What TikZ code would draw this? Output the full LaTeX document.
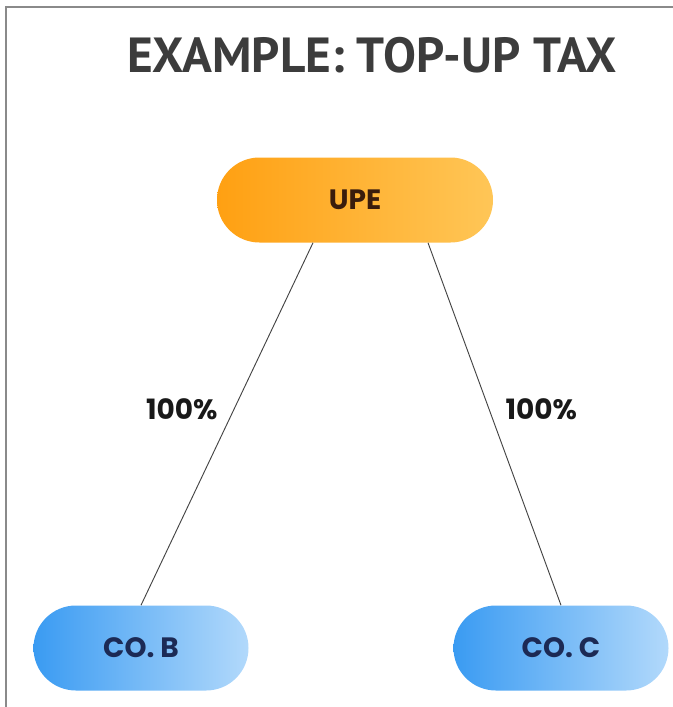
\documentclass[tikz,border=0pt]{standalone}
\usepackage{fontspec}
\setmainfont{Poppins}
\newfontfamily\titlefont{PT Sans}
\usetikzlibrary{positioning}
\definecolor{upeleft}{HTML}{FFA012}
\definecolor{uperight}{HTML}{FFC657}
\definecolor{upetext}{HTML}{3A1C0C}
\definecolor{coleft}{HTML}{3A9BF2}
\definecolor{coright}{HTML}{B2D9FB}
\definecolor{cotext}{HTML}{1C2A55}
\definecolor{titlegray}{HTML}{3C3C3C}
\definecolor{framegray}{HTML}{8A8A8A}
\definecolor{linegray}{HTML}{444444}
\begin{document}
\begin{tikzpicture}[
            every node/.style = {font = \bfseries\fontsize{21}{24}\selectfont},
            entity/.style = {minimum height = 63.75pt, rounded corners = 31.8pt, inner sep = 0pt},
            upebox/.style = {entity, minimum width = 207pt, left color = upeleft, right color = uperight, text = upetext},
            cobox/.style = {entity, minimum width = 161.25pt, xshift = -3pt, left color = coleft, right color = coright, text = cotext},
            sharelabel/.style = {inner sep = 0pt, text = black!90},
            level distance = 336pt, sibling distance = 315pt]
            \useasboundingbox (0,0) rectangle (504.75pt,-530.25pt);
            \draw[framegray, line width = 1.1pt] (4.5pt,-530.25pt) -- (4.5pt,-5.25pt) -- (504.75pt,-5.25pt);
            \node[font = \titlefont\bfseries\fontsize{37}{42}\selectfont, text = titlegray] (title) at (279pt,-41.25pt) {EXAMPLE: TOP-UP TAX};
            \node[upebox] (upe) at (266.25pt,-150pt) {UPE}
            child {node[cobox] (cob) {CO. B} edge from parent[draw = none]}
            child {node[cobox] (coc) {CO. C} edge from parent[draw = none]};
            \draw[linegray, line width = 0.7pt] ([xshift = -31.5pt]upe.south) -- node[sharelabel, pos = .46, left = 12pt] {100\%} (cob.north);
            \draw[linegray, line width = 0.7pt] ([xshift = 54.75pt]upe.south) -- node[sharelabel, pos = .46, right = 12pt] {100\%} (coc.north);
\end{tikzpicture}
\end{document}
